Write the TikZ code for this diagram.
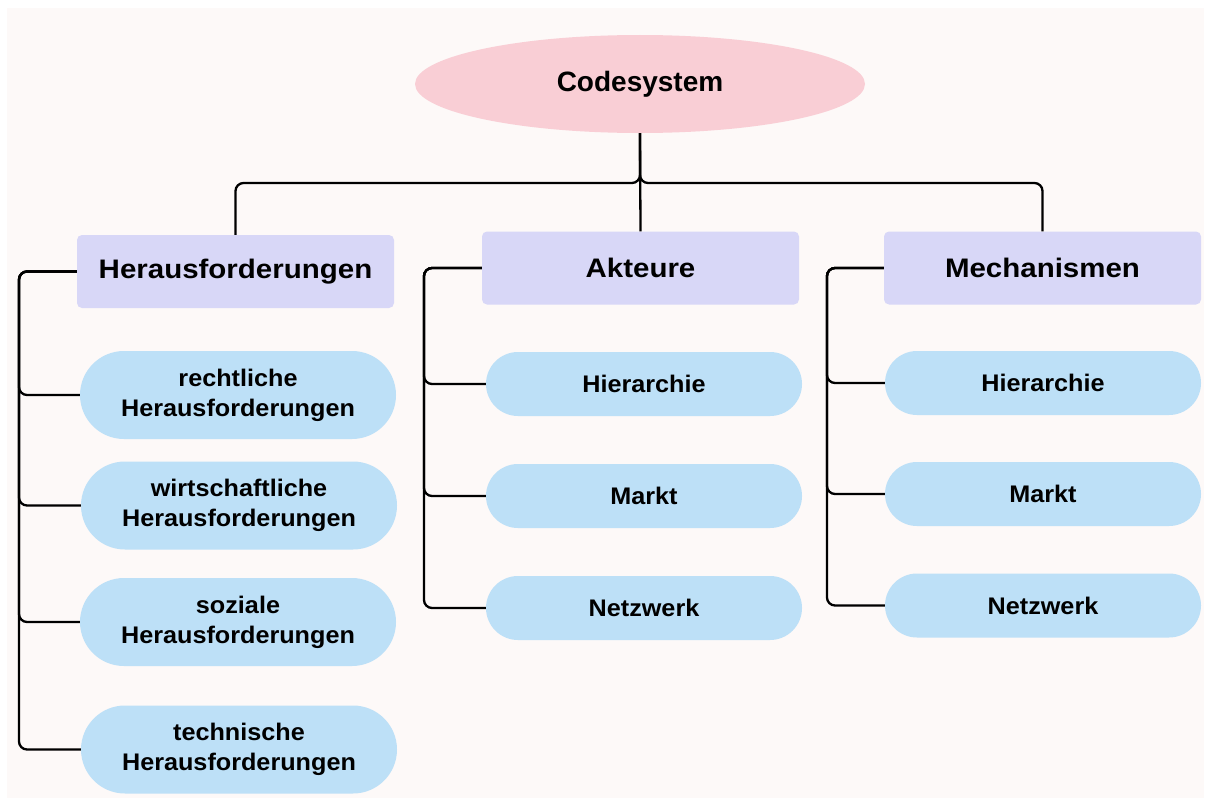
\documentclass[tikz,border=0pt]{standalone}
\usepackage{fontspec}
\setmainfont{Liberation Sans}
\newfontfamily\chfont{Liberation Sans}[FakeStretch=1.05]
\newfontfamily\hdfont{Liberation Sans}[FakeStretch=1.1]
\usetikzlibrary{shapes.geometric}
\definecolor{bgc}{HTML}{FDF9F8}
\definecolor{rootc}{HTML}{F9CED5}
\definecolor{headc}{HTML}{D8D7F7}
\definecolor{pillc}{HTML}{BDE0F7}
\tikzset{
  rootnode/.style={ellipse, fill=rootc, minimum width=450, minimum height=98, inner sep=0,
    font=\bfseries\fontsize{28}{30}\selectfont},
  headnode/.style={rectangle, rounded corners=5, fill=headc, minimum width=317, minimum height=73,
    inner sep=0, font=\hdfont\bfseries\fontsize{26.8}{28}\selectfont},
  pillbase/.style={rectangle, fill=pillc, minimum width=316, inner sep=0, align=center,
    font=\chfont\bfseries\fontsize{24}{30}\selectfont},
  pilltall/.style={pillbase, minimum height=88, rounded corners=44},
  pillshort/.style={pillbase, minimum height=64, rounded corners=32},
  conn/.style={draw=black, line width=2.3, rounded corners=8}
}
\begin{document}
\begin{tikzpicture}[x=1pt,y=-1pt]
\useasboundingbox (0,0) rectangle (1206,800);
\fill[white] (0,0) rectangle (1206,800);
\fill[bgc] (7,8) rectangle (1204,798);

\coordinate (bar) at (640,183);
\coordinate (s1) at (19,271.5);
\coordinate (s2) at (424,268);
\coordinate (s3) at (827,268);

\node[rootnode] (root) at (640,84) {Codesystem};

\node[headnode] (h1) at (235.5,271.5) {Herausforderungen};
\node[headnode] (h2) at (640.5,268) {Akteure};
\node[headnode] (h3) at (1042.5,268) {Mechanismen};

\node[pilltall] (c11) at (238,395) {rechtliche\\Herausforderungen};
\node[pilltall] (c12) at (239,505.5) {wirtschaftliche\\Herausforderungen};
\node[pilltall] (c13) at (238,622) {soziale\\Herausforderungen};
\node[pilltall] (c14) at (239,749.5) {technische\\Herausforderungen};

\node[pillshort] (c21) at (644,384) {Hierarchie};
\node[pillshort] (c22) at (644,496) {Markt};
\node[pillshort] (c23) at (644,608) {Netzwerk};

\node[pillshort] (c31) at (1043,383) {Hierarchie};
\node[pillshort] (c32) at (1043,494) {Markt};
\node[pillshort] (c33) at (1043,605.5) {Netzwerk};

\draw[conn] (root.south) -- (bar) -| (h1.north);
\draw[conn] (root.south) -- (bar) -| (h3.north);
\draw[conn] (root.south) -- (h2.north);

\foreach \c in {c11,c12,c13,c14} \draw[conn] (h1.west) -- (s1) |- (\c.west);
\foreach \c in {c21,c22,c23} \draw[conn] (h2.west) -- (s2) |- (\c.west);
\foreach \c in {c31,c32,c33} \draw[conn] (h3.west) -- (s3) |- (\c.west);
\end{tikzpicture}
\end{document}
